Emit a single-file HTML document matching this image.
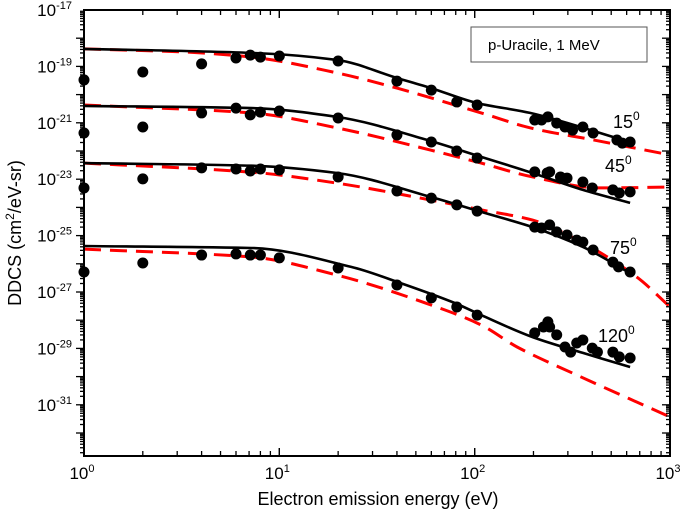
<!DOCTYPE html>
<html><head><meta charset="utf-8"><style>
body{margin:0;background:#fff;}
svg{display:block;font-family:"Liberation Sans",Arial,sans-serif;}
</style></head><body>
<svg id="chart" width="685" height="517" viewBox="0 0 685 517">
<g id="series"></g>
<g id="axes"></g>
<rect x="471" y="27" width="176" height="35" fill="#fff" stroke="#555" stroke-width="1"/>
<text x="488" y="50" font-size="15">p-Uracile, 1 MeV</text>
<text x="613" y="128" font-size="18">15<tspan dy="-8" font-size="12">0</tspan></text>
<text x="605" y="172" font-size="18">45<tspan dy="-8" font-size="12">0</tspan></text>
<text x="610" y="254" font-size="18">75<tspan dy="-8" font-size="12">0</tspan></text>
<text x="598" y="342" font-size="18">120<tspan dy="-8" font-size="12">0</tspan></text>
<text x="378" y="505" font-size="18" text-anchor="middle">Electron emission energy (eV)</text>
<text transform="translate(21,233) rotate(-90)" font-size="18" text-anchor="middle">DDCS (cm<tspan dy="-7" font-size="12">2</tspan><tspan dy="7">/eV-sr)</tspan></text>
</svg>
<script>
// ---- data (energies in eV, DDCS as log10 values) ----
const ptsE15=[1,2,4,6,7.1,8,10,20,40,60,81,103,203,220,237,263,290,317,358,404,535,570,625];
const ptsL15=[-19.48,-19.20,-18.91,-18.70,-18.60,-18.67,-18.63,-18.81,-19.52,-19.84,-20.26,-20.37,-20.90,-20.90,-20.79,-21.01,-21.15,-21.26,-21.15,-21.36,-21.61,-21.72,-21.68];
const ptsE45=[1,2,4,6,7.1,8,10,20,40,60,81,103,203,235,242,275,297,358,400,510,550,625];
const ptsL45=[-21.36,-21.15,-20.65,-20.48,-20.72,-20.62,-20.58,-20.83,-21.43,-21.68,-22.00,-22.25,-22.74,-22.78,-22.74,-22.92,-22.96,-23.10,-23.31,-23.38,-23.49,-23.45];
const ptsE75=[1,2,4,6,7.1,8,10,20,40,60,81,103,203,220,242,263,297,333,358,404,510,545,625];
const ptsL75=[-23.31,-22.99,-22.60,-22.64,-22.71,-22.64,-22.67,-22.92,-23.42,-23.67,-23.91,-24.13,-24.70,-24.73,-24.62,-24.87,-24.98,-25.16,-25.23,-25.51,-25.94,-26.11,-26.29];
const ptsE120=[1,2,4,6,7.1,8,10,20,40,60,81,103,203,225,237,242,263,290,310,333,358,400,425,510,550,625];
const ptsL120=[-26.29,-25.97,-25.69,-25.65,-25.69,-25.69,-25.79,-26.15,-26.75,-27.21,-27.53,-27.82,-28.45,-28.24,-28.06,-28.24,-28.52,-28.95,-29.13,-28.81,-28.70,-28.99,-29.13,-29.13,-29.30,-29.34];

const solE15=[1,7.2,19.7,40,59.8,103,192,600];
const solL15=[-18.38,-18.52,-18.77,-19.41,-19.77,-20.30,-20.65,-21.65];
const dashE15=[1,3.25,7.2,19.7,40,108,198,400,1000];
const dashL15=[-18.38,-18.49,-18.67,-19.23,-19.77,-20.65,-21.20,-21.60,-22.14];
const solE45=[1,7.2,19.7,59.8,108,198,358,625];
const solL45=[-20.40,-20.48,-20.79,-21.65,-22.21,-22.78,-23.38,-23.84];
const dashE45=[1,7.2,19.7,59.8,108,198,438,1000];
const dashL45=[-20.37,-20.65,-21.18,-21.97,-22.43,-22.92,-23.31,-23.28];
const solE75=[1,7.2,19.7,59.8,108,198,358,625];
const solL75=[-22.43,-22.52,-22.78,-23.63,-24.16,-24.70,-25.40,-26.33];
const dashE75=[1,7.2,19.7,59.8,108,198,358,676,1000];
const dashL75=[-22.43,-22.75,-23.14,-23.74,-24.09,-24.45,-25.26,-26.47,-27.53];
const solE120=[1,7.2,23.3,41.6,79,108,198,358,625];
const solL120=[-25.37,-25.44,-26.11,-26.68,-27.39,-27.82,-28.60,-29.16,-29.66];
const dashE120=[1,7.2,19.7,59.8,108,165,332,1000];
const dashL120=[-25.48,-25.76,-26.40,-27.46,-28.17,-28.95,-29.94,-31.43];

const xTickExps=[0,1,2,3];
const yTickExps=[-17,-19,-21,-23,-25,-27,-29,-31];

// ---- axes ----
const X0=84,X1=670,Y0=10,Y1=456;
const xMinL=0,xMaxL=3,yTopL=-17,decPx=28.2;
function xs(e){return X0+(Math.log10(e)-xMinL)/(xMaxL-xMinL)*(X1-X0);}
function ysL(l){return Y0+(yTopL-l)*decPx;}
const NS="http://www.w3.org/2000/svg";
function mk(tag,parent){const el=document.createElementNS(NS,tag);parent.appendChild(el);return el;}
const series=document.getElementById('series'),axes=document.getElementById('axes');

// monotone cubic (Fritsch-Carlson) through pixel points
function pathThrough(E,L){
  const x=E.map(xs),y=L.map(ysL),n=x.length;
  const dx=[],s=[];for(let i=0;i<n-1;i++){dx.push(x[i+1]-x[i]);s.push((y[i+1]-y[i])/dx[i]);}
  const m=[s[0]];
  for(let i=1;i<n-1;i++){m.push(s[i-1]*s[i]<=0?0:(2*s[i-1]*s[i])/(s[i-1]+s[i]));}
  m.push(s[n-2]);
  let d="M"+x[0].toFixed(1)+","+y[0].toFixed(1);
  for(let i=0;i<n-1;i++){
    const h=dx[i]/3;
    d+=" C"+(x[i]+h).toFixed(1)+","+(y[i]+m[i]*h).toFixed(1)+" "+(x[i+1]-h).toFixed(1)+","+(y[i+1]-m[i+1]*h).toFixed(1)+" "+x[i+1].toFixed(1)+","+y[i+1].toFixed(1);
  }
  return d;
}
function curve(E,L,dashed,name){
  const el=mk('path',series);
  el.setAttribute('d',pathThrough(E,L));
  el.setAttribute('fill','none');
  el.setAttribute('stroke',dashed?'#ff0000':'#000');
  el.setAttribute('stroke-width',dashed?3:2.6);
  if(dashed)el.setAttribute('stroke-dasharray','17,9');
  
  
}
function points(E,L,name){
  E.forEach((e,i)=>{
    const c=mk('circle',series);
    c.setAttribute('cx',xs(e));c.setAttribute('cy',ysL(L[i]));c.setAttribute('r',5.5);
    c.setAttribute('fill','#000');
    
    
  });
}
curve(dashE15,dashL15,true,'dashed-curve-15deg');
curve(dashE45,dashL45,true,'dashed-curve-45deg');
curve(dashE75,dashL75,true,'dashed-curve-75deg');
curve(dashE120,dashL120,true,'dashed-curve-120deg');
curve(solE15,solL15,false,'solid-curve-15deg');
curve(solE45,solL45,false,'solid-curve-45deg');
curve(solE75,solL75,false,'solid-curve-75deg');
curve(solE120,solL120,false,'solid-curve-120deg');
points(ptsE15,ptsL15,'data-point-15deg');
points(ptsE45,ptsL45,'data-point-45deg');
points(ptsE75,ptsL75,'data-point-75deg');
points(ptsE120,ptsL120,'data-point-120deg');

// frame
const fr=mk('rect',axes);
fr.setAttribute('x',X0);fr.setAttribute('y',Y0);fr.setAttribute('width',X1-X0);fr.setAttribute('height',Y1-Y0);
fr.setAttribute('fill','none');fr.setAttribute('stroke','#000');fr.setAttribute('stroke-width',2);


function line(x1,y1,x2,y2,w){const l=mk('line',axes);l.setAttribute('x1',x1);l.setAttribute('y1',y1);l.setAttribute('x2',x2);l.setAttribute('y2',y2);l.setAttribute('stroke','#000');l.setAttribute('stroke-width',w||1.3);return l;}
for(let d=0;d<3;d++){for(let m=1;m<=10;m++){
  const x=xs(m*Math.pow(10,d));const len=(m===1||m===10)?8:5;
  line(x,Y1,x,Y1-len);line(x,Y0,x,Y0+len);
}}
xTickExps.forEach(k=>{
  const t=mk('text',axes);t.setAttribute('x',xs(Math.pow(10,k))-2);t.setAttribute('y',Y1+23);
  t.setAttribute('font-size',17);t.setAttribute('text-anchor','middle');
  t.innerHTML='10<tspan dy="-7" font-size="11">'+k+'</tspan>';
  
  
});
for(let l=-33;l<-17;l++){for(let m=1;m<10;m++){
  const y=ysL(l+Math.log10(m));if(y>Y1||y<Y0)continue;const len=m===1?8:4;
  line(X0,y,X0-len,y);line(X1,y,X1-len,y);
}}
yTickExps.forEach(k=>{
  const t=mk('text',axes);t.setAttribute('x',72);t.setAttribute('y',ysL(k)+6);
  t.setAttribute('font-size',17);t.setAttribute('text-anchor','end');
  t.innerHTML='10<tspan dy="-7" font-size="11">'+k+'</tspan>';
  
  
});
</script>
</body></html>
